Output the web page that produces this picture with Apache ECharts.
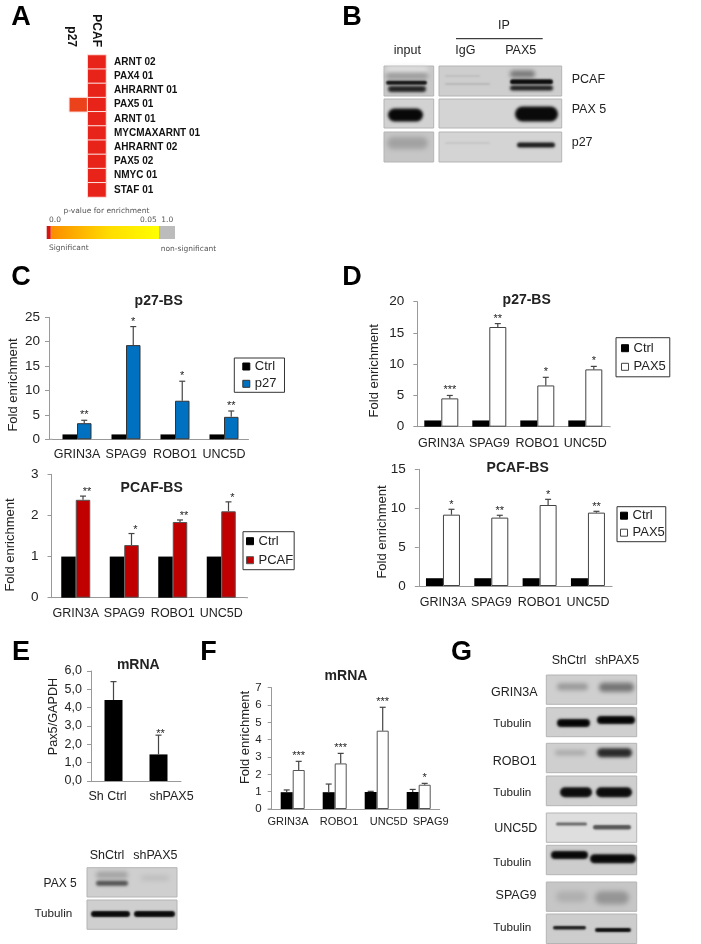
<!DOCTYPE html>
<html><head><meta charset="utf-8">
<style>html,body{margin:0;padding:0;background:#fff}#c{width:701px;height:944px}</style>
<script src="https://cdn.jsdelivr.net/npm/echarts@6/dist/echarts.min.js"></script>
</head><body><div id="c"></div>
<script>
// ---------- data ----------
const motifs = ['ARNT 02','PAX4 01','AHRARNT 01','PAX5 01','ARNT 01','MYCMAXARNT 01','AHRARNT 02','PAX5 02','NMYC 01','STAF 01'];
const motifColumns = ['p27','PCAF'];
const motifP27 = [null,null,null,0.007,null,null,null,null,null,null];
const motifPCAF = [0,0,0,0,0,0,0,0,0,0];

const genes = ['GRIN3A','SPAG9','ROBO1','UNC5D'];
const genesF = ['GRIN3A','ROBO1','UNC5D','SPAG9'];
const samplesE = ['Sh Ctrl','shPAX5'];

const cTopCtrl = [1,1,1,1];
const cTopP27 = [3.3,19.3,7.9,4.6];
const cTopP27Err = [3.9,23.1,11.9,5.8];
const cTopMarks = ['**','*','*','**'];

const cBotCtrl = [1,1,1,1];
const cBotPCAF = [2.38,1.28,1.84,2.10];
const cBotPCAFErr = [2.47,1.56,1.89,2.33];
const cBotMarks = ['**','*','**','*'];

const dTopCtrl = [1,1,1,1];
const dTopPAX5 = [4.53,15.95,6.6,9.17];
const dTopPAX5Err = [5.0,16.5,7.9,9.65];
const dTopMarks = ['***','**','*','*'];

const dBotCtrl = [1,1,1,1];
const dBotPAX5 = [9.17,8.79,10.41,9.43];
const dBotPAX5Err = [9.86,9.09,11.14,9.6];
const dBotMarks = ['*','**','*','**'];

const eValues = [4.42,1.45];
const eErr = [5.42,2.5];
const eMarks = ['','**'];

const fCtrl = [0.97,0.97,0.98,0.98];
const fCtrlErr = [1.1,1.44,1.02,1.13];
const fShPAX5 = [2.25,2.63,4.52,1.40];
const fShPAX5Err = [2.75,3.21,5.87,1.48];
const fMarks = ['***','***','***','*'];

// ---------- helpers ----------
const FONT = '"Liberation Sans", Arial, sans-serif';
const INK = '#222';
const AXIS = '#999';
const OFF = 3000;
const grids=[],xAxes=[],yAxes=[],series=[],legends=[],titles=[],gfx=[];

function text(t,x,y,size,o={}){
  gfx.push({type:'text',silent:true,x,y,rotation:o.rot||0,z:5,
    style:{text:t,x:0,y:0,fill:o.fill||INK,textAlign:o.align||'center',textVerticalAlign:'middle',
      font:(o.bold?'bold ':'')+size+'px '+(o.family||FONT)}});
}
function rect(x,y,w,h,fill,o={}){
  gfx.push({type:'rect',silent:true,z:o.z||1,shape:{x,y,width:w,height:h},
    style:{fill,stroke:o.stroke,lineWidth:o.stroke?1:0}});
}
function line(x1,y1,x2,y2,stroke,w=1){
  gfx.push({type:'line',silent:true,z:2,shape:{x1,y1,x2,y2},style:{stroke,lineWidth:w}});
}
// soft band: only the blurred shadow of an off-canvas rectangle shows
function band(b){
  const blur=b[5]===undefined?3:b[5];
  gfx.push({type:'rect',silent:true,z:2,shape:{x:b[0]-OFF,y:b[2]-b[3]/2,width:b[1]-b[0],height:b[3],r:b[3]/2},
    style:{fill:'#000',shadowBlur:blur,shadowColor:b[4],shadowOffsetX:OFF}});
}
// western-blot strip: background and blurred bands [x0,x1,yCentre,h,colour,blur]
function blot(x,y,w,h,bg,bands){
  rect(x,y,w,h,bg,{stroke:'#b4b4b4'});
  bands.forEach(band);
}

function panel(c){
  const i=grids.length;
  grids.push({left:c.left,top:c.top,width:c.width,height:c.height});
  const labelRich={};
  const shifts=c.labelShift||[];
  c.cats.forEach((_,k)=>{const s=shifts[k]||0;
    labelRich['l'+k]={fontFamily:FONT,fontSize:c.catSize,color:INK,padding:[0,s<0?-2*s:0,0,s>0?2*s:0]};});
  xAxes.push({gridIndex:i,type:'category',data:c.cats,
    axisLine:{lineStyle:{color:AXIS,width:1}},axisTick:{show:false},
    axisLabel:{interval:0,margin:c.catMargin,hideOverlap:false,formatter:(v,k)=>'{l'+k+'|'+v+'}',rich:labelRich,
      fontFamily:FONT,fontSize:c.catSize,color:INK}});
  yAxes.push({gridIndex:i,type:'value',min:c.min,max:c.max,interval:c.interval,offset:c.yOffset||0,
    axisLine:{show:true,lineStyle:{color:AXIS,width:1}},
    axisTick:{show:true,length:4,lineStyle:{color:AXIS}},splitLine:{show:false},
    axisLabel:{margin:c.tickMargin,fontFamily:FONT,fontSize:c.tickSize,color:INK,formatter:c.tickFormat}});
  const by=c.top+c.height;
  if(c.axisFrom!==undefined) line(c.axisFrom,by,c.left,by,AXIS);
  if(c.axisTo!==undefined) line(c.left+c.width,by,c.axisTo,by,AXIS);
  const n=c.bars.length;
  c.bars.forEach((b,bi)=>{
    series.push({type:'bar',name:b.name,xAxisIndex:i,yAxisIndex:i,data:b.values,barWidth:c.barWidth,barGap:'0%',
      animation:false,itemStyle:{color:b.color,borderColor:b.border||b.color,borderWidth:b.border?1:0},z:2});
    if(!b.err) return;
    const shift=(bi-(n-1)/2)*c.barWidth;
    const rows=b.values.map((v,k)=>[k,v,b.err[k],b.marks?b.marks[k]:'']);
    series.push({type:'custom',xAxisIndex:i,yAxisIndex:i,data:rows,animation:false,z:4,silent:true,
      encode:{x:0,y:2},
      renderItem:(p,api)=>{
        const k=api.value(0);
        const x=api.coord([k,0])[0]+shift;
        const y0=api.coord([k,api.value(1)])[1];
        const y1=api.coord([k,api.value(2)])[1];
        const mark=rows[k][3];
        const st={stroke:'#444',lineWidth:1.2};
        const kids=[
          {type:'line',shape:{x1:x,y1:y0,x2:x,y2:y1},style:st},
          {type:'line',shape:{x1:x-3,y1:y1,x2:x+3,y2:y1},style:st}];
        if(mark) kids.push({type:'text',style:{text:mark,x:x+(c.starDx||0),y:y1-(c.starGap===undefined?5:c.starGap),
          textAlign:'center',textVerticalAlign:'middle',font:'11px '+FONT,fill:INK}});
        return {type:'group',children:kids};
      }});
  });
  if(c.legend){
    const l=c.legend;
    legends.push({show:true,orient:'vertical',left:l.x,top:l.y,padding:l.pad,itemWidth:7,itemHeight:7,itemGap:l.gap,
      borderColor:'#333',borderWidth:1,selectedMode:false,icon:'rect',
      data:c.bars.map(b=>b.name),itemStyle:{borderWidth:1},
      textStyle:{fontFamily:FONT,fontSize:13,color:INK}});
  }
  titles.push({text:c.title[0],left:c.title[1],top:c.title[2],textAlign:'center',textVerticalAlign:'middle',padding:0,
    textStyle:{fontFamily:FONT,fontSize:14,fontWeight:'bold',color:INK}});
  text(c.yName[0],c.yName[1],c.yName[2],c.yName[3],{rot:Math.PI/2});
}

// ---------- panel A : motif heat map ----------
const ah=grids.length;
grids.push({left:69.3,top:55,width:36.7,height:142});
xAxes.push({gridIndex:ah,type:'category',position:'top',data:motifColumns,axisLine:{show:false},axisTick:{show:false},
  axisLabel:{interval:0,rotate:90,margin:8,fontFamily:FONT,fontSize:12,fontWeight:'bold',color:'#111',
    formatter:(v,k)=>k===0?'{a|'+v+'}':'{b|'+v+'}',
    rich:{a:{fontFamily:FONT,fontSize:12,fontWeight:'bold',color:'#111',padding:[15,0,0,0]},
          b:{fontFamily:FONT,fontSize:12,fontWeight:'bold',color:'#111',padding:[2,0,0,0]}}}});
yAxes.push({gridIndex:ah,type:'category',position:'right',inverse:true,data:motifs,axisLine:{show:false},axisTick:{show:false},
  axisLabel:{interval:0,margin:8,fontFamily:FONT,fontSize:10,fontWeight:'bold',color:'#111'}});
const heat=[];
motifs.forEach((_,r)=>{
  if(motifP27[r]!==null) heat.push([0,r,motifP27[r]]);
  if(motifPCAF[r]!==null) heat.push([1,r,motifPCAF[r]]);
});
series.push({type:'heatmap',xAxisIndex:ah,yAxisIndex:ah,data:heat,animation:false,silent:true,
  itemStyle:{borderColor:'#fbe3df',borderWidth:1}});

// colour key for panel A
gfx.push({type:'rect',silent:true,z:1,shape:{x:50.7,y:226,width:108.3,height:13},
  style:{fill:{type:'linear',x:0,y:0,x2:1,y2:0,colorStops:[{offset:0,color:'#fb8c00'},{offset:.55,color:'#ffdd00'},{offset:1,color:'#ffff00'}]}}});
rect(46.7,226,4,13,'#d8140f');
rect(159,226,16,13,'#bcbcbc');
const KEY='"DejaVu Sans", sans-serif';
const keyOpt=a=>({family:KEY,fill:'#555',align:a});
text('p-value for enrichment',106.5,210.7,7.5,keyOpt('center'));
text('0.0',49,220,7.5,keyOpt('left'));
text('0.05',140,220,7.5,keyOpt('left'));
text('1.0',161.3,220,7.5,keyOpt('left'));
text('Significant',49,248,7.5,keyOpt('left'));
text('non-significant',160.7,249.3,7.5,keyOpt('left'));

// ---------- panel C ----------
panel({left:52.5,top:317.3,width:196,height:122,cats:genes,catSize:12.5,catMargin:9,min:0,max:25,interval:5,
  yOffset:3.5,tickMargin:9,tickSize:13.5,barWidth:14.5,axisFrom:49,
  bars:[{name:'Ctrl',values:cTopCtrl,color:'#000'},
        {name:'p27',values:cTopP27,color:'#0070c0',border:'#333',err:cTopP27Err,marks:cTopMarks}],
  legend:{x:234.3,y:358,pad:[2,8,2,8],gap:4.3},
  title:['p27-BS',158.7,300.7],yName:['Fold enrichment',13,385,13]});
panel({left:51.5,top:474.3,width:194,height:123.4,cats:genes,catSize:12.5,catMargin:9,min:0,max:3,interval:1,
  tickMargin:13,tickSize:13.5,barWidth:14.5,axisTo:248,starDx:4,starGap:4,
  bars:[{name:'Ctrl',values:cBotCtrl,color:'#000'},
        {name:'PCAF',values:cBotPCAF,color:'#c00000',border:'#555',err:cBotPCAFErr,marks:cBotMarks}],
  legend:{x:243,y:531.7,pad:[3,1,3,3],gap:6},
  title:['PCAF-BS',151.7,488.3],yName:['Fold enrichment',10,545,13]});

// ---------- panel D ----------
panel({left:417.3,top:301.7,width:192,height:125,cats:genes,catSize:12.5,catMargin:10,min:0,max:20,interval:5,
  tickMargin:13,tickSize:13.5,barWidth:17,axisTo:610.7,starGap:5,
  bars:[{name:'Ctrl',values:dTopCtrl,color:'#000'},
        {name:'PAX5',values:dTopPAX5,color:'#fff',border:'#444',err:dTopPAX5Err,marks:dTopMarks}],
  legend:{x:616,y:337.7,pad:[4,4,3.5,5],gap:5.6},
  title:['p27-BS',526.7,300],yName:['Fold enrichment',374.3,370.8,13]});
panel({left:418.8,top:469.3,width:193.3,height:116.7,cats:genes,catSize:12.5,catMargin:10,min:0,max:15,interval:5,
  tickMargin:13,tickSize:13.5,barWidth:17,starGap:4,
  bars:[{name:'Ctrl',values:dBotCtrl,color:'#000'},
        {name:'PAX5',values:dBotPAX5,color:'#fff',border:'#444',err:dBotPAX5Err,marks:dBotMarks}],
  legend:{x:617,y:506.7,pad:[2.5,1,2.5,3],gap:4},
  title:['PCAF-BS',517.7,467.7],yName:['Fold enrichment',382.3,532,13]});

// ---------- panel E ----------
panel({left:91,top:671,width:90,height:110,cats:samplesE,catSize:12.5,catMargin:9,min:0,max:6,interval:1,
  tickMargin:9,tickSize:12.5,barWidth:18,labelShift:[-6,13],starDx:2,starGap:1,
  tickFormat:v=>v.toFixed(1).replace('.',','),
  bars:[{name:'shE',values:eValues,color:'#000',err:eErr,marks:eMarks}],
  title:['mRNA',138.3,665],yName:['Pax5/GAPDH',53.3,716.5,12.7]});

// ---------- panel F ----------
panel({left:271.7,top:687.7,width:168,height:121.3,cats:genesF,catSize:11,catMargin:7,min:0,max:7,interval:1,
  tickMargin:10,tickSize:11.5,barWidth:12,axisFrom:267.7,labelShift:[-4.7,4.3,12,12],starGap:5,
  bars:[{name:'fC',values:fCtrl,color:'#000',err:fCtrlErr},
        {name:'fP',values:fShPAX5,color:'#fff',border:'#555',err:fShPAX5Err,marks:fMarks}],
  title:['mRNA',346,675.7],yName:['Fold enrichment',245,737.5,13]});

// ---------- panel letters ----------
[['A',21,17.5],['B',352,17.5],['C',21,277.5],['D',352,277.5],['E',21,652.5],['F',208.5,652.5],['G',461.5,652.5]]
  .forEach(l=>text(l[0],l[1],l[2],27,{bold:true,fill:'#000'}));

// ---------- panel B blots ----------
text('IP',504,26,12.5); line(456,38.7,542.7,38.7,'#111');
text('input',407.3,51,12.5); text('IgG',465.3,51,12.5); text('PAX5',520.7,51,12.5);
text('PCAF',571.7,80,12.5,{align:'left'}); text('PAX 5',571.7,109.3,12.5,{align:'left'}); text('p27',571.7,142.3,12.5,{align:'left'});
blot(384,66,49.7,30,'#c8c8c8',[[386,428,70,6,'#e4e4e4',5],[386,428,76,6,'#9a9a9a',4],[386,427,82.7,4,'#111',2],[388,426,89,6,'#222',3]]);
blot(439,66,122.7,30,'#cecece',[[510,535,74,7,'#777',4],[510,553,81.7,5,'#0a0a0a',2],[510,553,88,5,'#1c1c1c',3],[445,490,84,1.5,'#b0b0b0',2],[445,480,76,1.5,'#bababa',2]]);
blot(384,99,49.7,29,'#d2d2d2',[[388,423,115,13,'#080808',3]]);
blot(439,99,122.7,29,'#d4d4d4',[[515,558,114,15,'#0a0a0a',3]]);
blot(384,132,49.7,30,'#c6c6c6',[[387,428,143,12,'#a2a2a2',5]]);
blot(439,132,122.7,30,'#d4d4d4',[[517,555,145,5,'#1a1a1a',2.5],[445,490,143,1.5,'#c2c2c2',2]]);

// ---------- panel E blots ----------
text('ShCtrl',107,856,12.5); text('shPAX5',155.3,856,12.5);
text('PAX 5',76.7,883.3,12,{align:'right'}); text('Tubulin',72.3,914,11.7,{align:'right'});
blot(87,867.7,90,29.3,'#cfcfcf',[[96,128,875,7,'#a4a4a4',4],[96,128,883.3,5,'#505050',3],[141,169,878,5,'#bcbcbc',5]]);
blot(87,900,90,29.3,'#cfcfcf',[[91,130,914,6,'#0a0a0a',2],[134,175,914,6,'#0a0a0a',2]]);

// ---------- panel G blots ----------
text('ShCtrl',569,661,12.5); text('shPAX5',617,661,12.5);
const gLabels=[['GRIN3A',514.3,692.7],['Tubulin',512.3,724],['ROBO1',514.7,761.7],['Tubulin',512.3,792.7],
  ['UNC5D',515.7,828.7],['Tubulin',512.3,863],['SPAG9',516,895.7],['Tubulin',512.3,928]];
gLabels.forEach(l=>text(l[0],l[1],l[2],l[0]==='Tubulin'?11.7:12.5));
blot(546.3,675,90.4,29.3,'#cfcfcf',[[557,588,686.7,7,'#9a9a9a',4],[599,634,687.3,9,'#757575',4]]);
blot(546.3,707.7,90.4,29,'#cfcfcf',[[557,590,723,8,'#050505',2.5],[597,635,720,8,'#050505',2.5]]);
blot(546.3,743.3,90.4,29.4,'#cfcfcf',[[555,586,752.7,5,'#a8a8a8',4],[597,632,752.7,9,'#2a2a2a',3.5]]);
blot(546.3,776,90.4,29.7,'#cfcfcf',[[560,592,792.3,10,'#0c0c0c',2.5],[596,632,792.3,10,'#0c0c0c',2.5]]);
blot(546.3,813,90.4,29.3,'#dedede',[[556,587,824,3,'#666',2],[593,631,827.3,4.5,'#555',2]]);
blot(546.3,845.3,90.4,29.4,'#cdcdcd',[[551,588,855,8,'#080808',2.5],[590,636,858.7,9,'#080808',2.5]]);
blot(546.3,882,90.4,29.3,'#c6c6c6',[[556,587,896.7,11,'#b0b0b0',5],[595,629,897.7,13,'#959595',5]]);
blot(546.3,914,90.4,29.5,'#cdcdcd',[[553,586,927.7,3.5,'#1a1a1a',2],[595,631,930,4,'#0c0c0c',2]]);

// ---------- chart ----------
const chart=echarts.init(document.getElementById('c'),null,{renderer:'canvas'});
chart.setOption({
  animation:false,backgroundColor:'#fff',
  title:titles,grid:grids,xAxis:xAxes,yAxis:yAxes,legend:legends,series,
  visualMap:[{show:false,type:'continuous',seriesIndex:series.findIndex(s=>s.type==='heatmap'),min:0,max:0.05,inRange:{color:['#e8231a','#f7931e','#ffff00']}}],
  graphic:{elements:gfx}
});
</script></body></html>
